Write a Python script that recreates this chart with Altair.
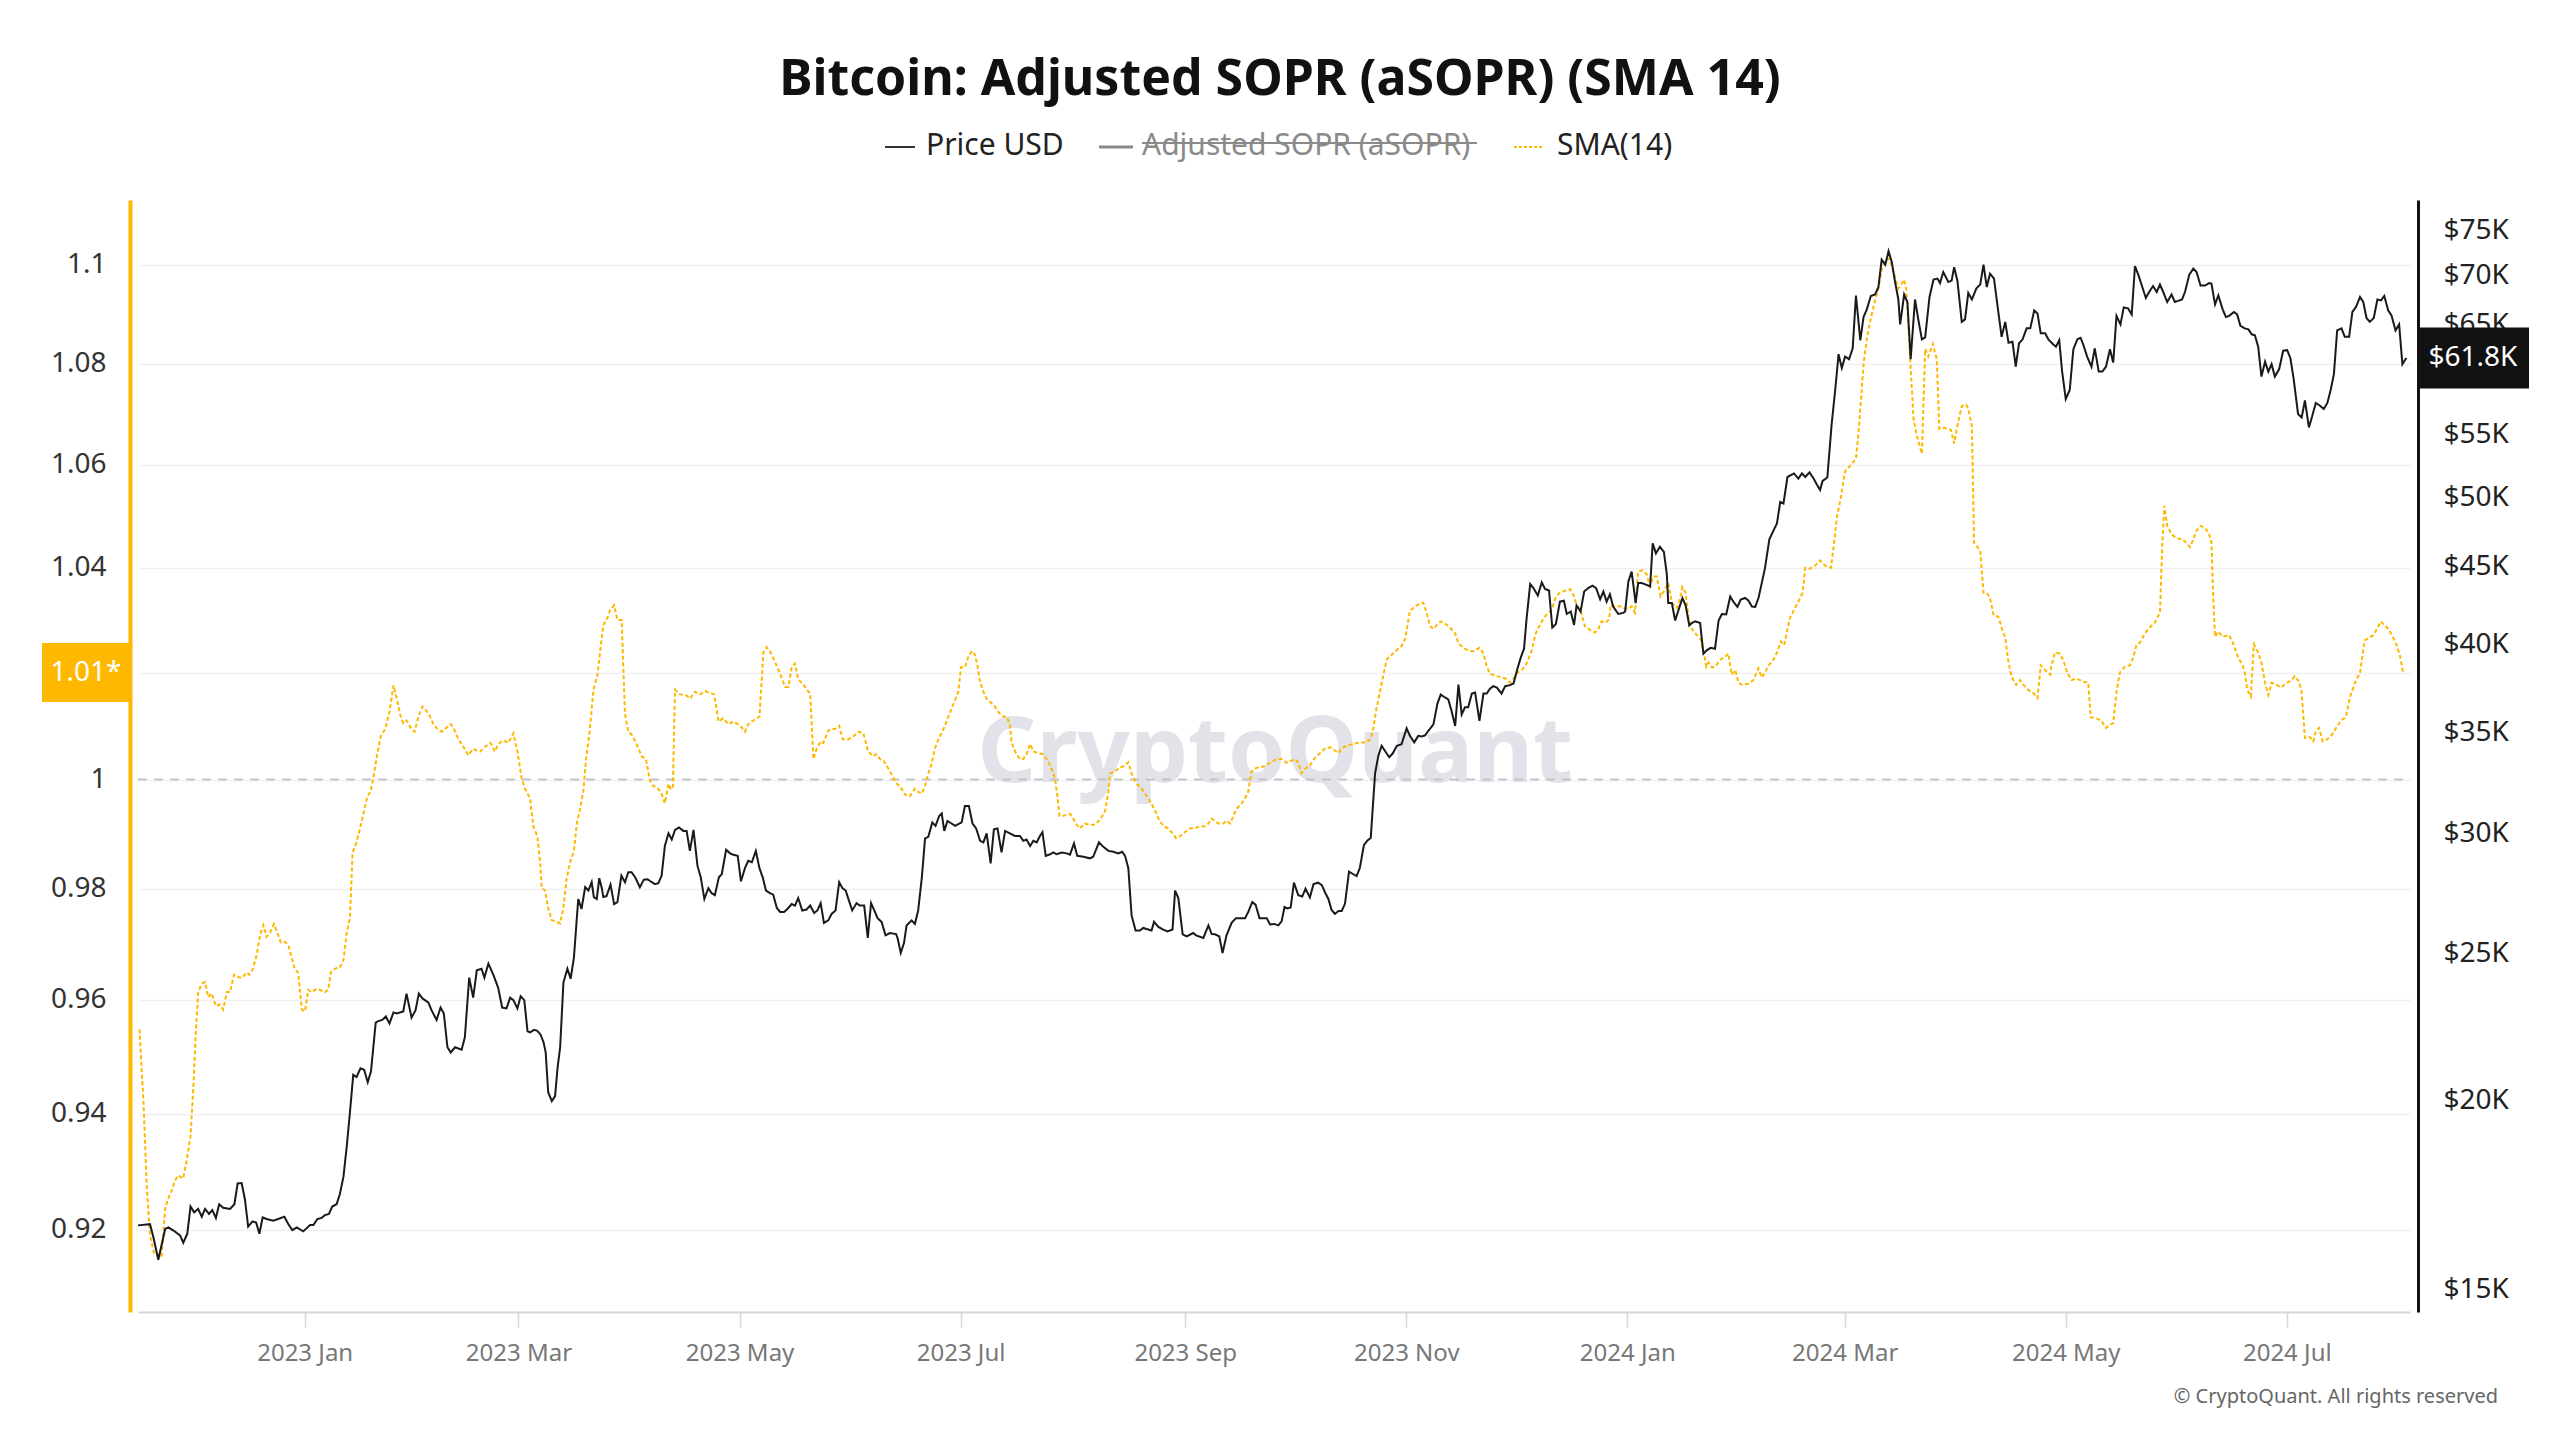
import altair as alt
import pandas as pd

# ---------------- data ----------------
BASE_DATE = "2022-11-16"  # day 0

price_day = [
    0, 3.3, 4.2, 5.6, 7.5, 8.4, 9.8, 11.6, 12.5, 13.6,
    14.5, 15.5, 16.6, 17.6, 18.5, 19.6, 20.5, 21.5, 22.4, 23.5,
    25.4, 26.6, 27.5, 28.6, 29.5, 30.4, 31.6, 32.6, 33.5, 34.4,
    35.5, 37.3, 38.7, 40.4, 41.5, 42.6, 43.8, 45.6, 47.5, 48.4,
    49.5, 50.7, 51.6, 52.7, 53.6, 54.8, 55.7, 56.7, 57.6, 58.5,
    59.4, 60.3, 61.4, 62.4, 63.4, 64.3, 65.6, 66.3, 67.4, 68.4,
    69.4, 70.5, 71.4, 73.2, 74.1, 75.5, 76.6, 77.5, 78.5, 80.1,
    81.0, 82.4, 83.5, 84.4, 85.4, 86.3, 87.5, 89.3, 90.2, 91.4,
    92.5, 93.5, 94.8, 95.6, 96.7, 98.1, 99.4, 100.5, 101.7, 102.7,
    103.6, 104.7, 105.6, 106.6, 107.5, 108.2,
    109.3, 110.2, 111.1, 111.9, 112.5, 113.2, 114.2, 115.1, 115.8, 116.5,
    117.4, 118.5, 119.4, 120.3, 121.1, 121.5, 122.4, 123.4, 124.3, 125.2,
    125.8, 126.6, 127.3, 128.0, 128.4, 129.3, 130.4, 131.4, 132.3, 133.4,
    134.4, 135.3, 136.2, 137.2, 138.5, 139.6, 140.6, 141.8, 142.7, 143.6,
    144.5, 145.4, 146.4, 147.3, 148.2, 149.3, 150.5, 151.4, 152.3, 153.3,
    154.4, 155.3, 156.3, 157.4, 158.3, 159.2, 160.3, 161.1, 162.3, 163.4,
    164.3, 165.5, 166.4, 167.5, 168.4, 169.4, 170.5, 171.5, 172.4, 173.3,
    174.4, 175.3, 176.3, 177.2, 178.3, 179.2, 180.4, 181.3, 182.2, 183.3,
    184.5, 185.5, 186.6, 187.5, 188.4, 189.3, 190.5, 191.4, 192.5, 193.5,
    194.4, 195.3, 196.2, 197.1, 198.3, 199.2, 200.4, 201.4, 202.3, 203.2,
    204.1, 205.2, 206.3, 207.5, 209.2, 209.6, 210.5, 211.4, 212.1,
    213.5, 214.4, 215.3, 216.3, 217.2, 218.1, 219.2, 220.1, 221.1, 221.8,
    222.5, 223.4, 224.5, 225.5, 227.3, 228.2, 229.3, 230.3, 231.3, 232.4,
    233.3, 234.2, 235.3, 236.2, 237.2, 238.3, 239.3, 240.6, 242.0, 243.4,
    244.3, 245.2, 246.2, 247.1, 248.0, 248.9, 249.6, 250.5, 251.7, 252.6,
    253.5, 254.9, 256.3, 257.2, 258.3, 259.2, 260.9, 262.7, 263.6, 265.2,
    266.4, 267.8, 269.2, 270.5, 271.6, 272.4, 273.3, 274.2, 275.3, 276.5,
    277.4, 278.8, 279.7, 280.4, 281.6, 282.8, 284.1, 285.5, 286.2, 287.1,
    288.3, 289.4, 291.2, 292.0, 294.0, 295.4, 296.3, 297.2, 298.4, 299.3,
    300.4, 301.8, 303.0, 304.6, 305.5, 306.4, 307.5, 308.4, 309.5, 311.5,
    312.4, 313.6, 314.7, 315.6, 316.4,
    317.2, 318.1, 319.0, 320.2, 321.3, 322.2, 323.4, 324.4, 325.7, 326.7,
    327.6, 328.5, 329.4, 330.3, 331.3, 332.2, 333.1, 334.2, 335.4, 336.3,
    337.2, 338.3, 339.3, 340.2, 341.4, 342.3, 343.2, 344.1, 345.3, 346.3,
    347.4, 348.7, 350.1, 351.0, 352.2, 353.3, 354.3, 355.2, 356.1, 357.5,
    358.6, 359.5, 360.7, 361.6, 362.5, 363.5, 364.4, 365.3, 366.2, 367.1,
    368.1, 369.0, 370.2, 371.3, 372.2, 373.1, 374.0, 375.0, 376.3, 377.3,
    378.6, 379.6, 380.7, 381.6, 382.5, 383.2, 384.2, 385.1, 386.3, 387.4,
    388.3, 389.4, 390.3, 391.3, 392.4, 393.5, 394.3, 395.4, 396.3, 397.0,
    398.1, 399.1, 400.2, 401.4, 402.4, 403.5, 404.4, 405.3, 406.2, 407.1,
    408.5, 409.9, 410.4, 411.3, 412.2, 413.3, 414.0, 415.0, 416.3, 417.3,
    418.0, 418.9, 420.0, 421.1, 421.9, 422.3,
    423.3, 424.2, 425.1, 426.2, 427.1, 428.1, 428.8, 429.7, 431.1, 432.0,
    432.9, 434.0, 435.2, 436.2, 437.1, 438.3, 439.4, 440.3, 441.4, 442.3,
    443.5, 444.4, 445.4, 446.3, 447.2, 448.1, 449.0, 450.2, 451.3, 452.3,
    453.2, 454.1, 455.2, 457.0, 458.2, 459.2, 460.1, 461.3, 462.4, 463.3,
    464.2, 464.9, 466.2, 467.4, 468.4, 469.3, 470.2, 471.1, 472.2, 473.2,
    474.1, 475.3, 476.2, 477.1, 478.2, 479.4, 480.3, 481.2, 482.2, 483.1,
    484.0, 484.9, 485.8, 486.3, 487.4, 488.3, 489.2, 490.4, 491.3, 492.3,
    493.2, 494.4, 495.5, 496.6, 497.3, 498.2, 499.6, 500.5, 501.2, 502.1,
    503.3, 504.2, 505.1, 506.1, 507.3, 508.4, 509.3, 510.2, 511.1, 512.2,
    513.2, 514.3, 515.3, 516.2, 517.3, 518.2, 519.1, 520.1, 521.2, 522.2,
    523.3, 524.2, 525.1, 526.3,
    527.2, 528.5, 529.3, 530.2, 531.0, 532.0, 533.1, 534.1, 535.2, 536.1,
    536.8, 537.9, 539.1, 540.0, 541.1, 542.1, 543.1, 544.2, 545.1, 546.0,
    547.1, 548.0, 549.2, 550.2, 551.1, 552.0, 552.9, 554.1, 555.0, 556.1,
    557.1, 558.0, 558.9, 560.0, 561.2, 562.1, 563.0, 564.1, 564.9, 566.1,
    567.2, 568.1, 569.2, 570.4, 571.6, 572.2, 573.2, 574.1, 575.3, 576.2,
    577.1, 578.4, 579.3, 580.2, 581.4, 582.4, 583.3, 584.2, 585.1, 586.0,
    587.0, 587.9, 588.8, 589.7, 590.9, 592.0, 593.1, 594.0, 594.9, 596.1,
    597.1, 598.0, 599.1, 600.0, 601.0, 602.1, 603.2, 604.2, 605.1, 606.0,
    606.9, 608.1, 609.0, 610.2, 611.1, 612.1, 613.2, 614.1, 615.0, 615.9,
    617.0, 618.0, 619.0, 619.9, 621.0, 621.9, 623.0, 624.0, 624.9, 626.0,
]

price_k = [
    16.54, 16.57, 16.26, 15.70, 16.45, 16.49, 16.41, 16.29, 16.11, 16.33,
    17.02, 16.87, 16.96, 16.76, 16.96, 16.83, 16.93, 16.73, 17.08, 16.99,
    16.96, 17.08, 17.63, 17.64, 17.21, 16.51, 16.64, 16.61, 16.33, 16.74,
    16.70, 16.66, 16.70, 16.76, 16.57, 16.42, 16.49, 16.39, 16.55, 16.55,
    16.70, 16.73, 16.80, 16.83, 17.02, 17.08, 17.34, 17.81, 18.64, 19.65,
    20.79, 20.72, 21.00, 20.95, 20.56, 20.90, 22.51, 22.56, 22.60, 22.72,
    22.48, 22.86, 22.82, 22.89, 23.52, 22.68, 22.94, 23.52, 23.35, 23.21,
    22.94, 22.60, 23.03, 22.82, 21.68, 21.51, 21.68, 21.60, 22.01, 24.10,
    23.38, 24.37, 24.43, 24.10, 24.62, 24.19, 23.73, 23.03, 23.00, 23.38,
    23.29, 23.00, 23.43, 23.29, 22.21, 22.18,
    22.26, 22.23, 22.10, 21.85, 21.52, 20.25, 19.98, 20.13, 21.03, 21.68,
    23.92, 24.43, 24.06, 24.84, 26.38, 27.16, 26.75, 27.65, 27.51, 27.86,
    27.24, 27.16, 28.03, 27.61, 27.24, 27.28, 27.76, 26.95, 27.03, 28.14,
    27.86, 28.29, 28.29, 28.07, 27.65, 27.97, 27.99, 27.86, 27.78, 27.82,
    28.14, 29.44, 30.01, 29.73, 30.17, 30.28, 30.12, 30.12, 29.22, 30.17,
    28.56, 28.07, 27.16, 27.61, 27.40, 27.32, 28.07, 28.20, 29.27, 29.11,
    29.05, 29.00, 27.90, 28.46, 28.78, 28.72, 29.22, 28.46, 28.07, 27.51,
    27.40, 27.34, 26.79, 26.63, 26.63, 26.75, 26.95, 26.89, 27.20, 26.69,
    26.73, 26.89, 26.59, 26.69, 26.99, 26.19, 26.29, 26.55, 26.69, 27.86,
    27.61, 27.51, 27.09, 26.69, 26.99, 26.89, 26.89, 25.60, 26.99, 26.69,
    26.38, 26.23, 25.70, 25.79, 25.75, 25.60, 25.02, 25.41, 26.09,
    26.29, 26.15, 26.69, 28.03, 29.78, 29.85, 30.51, 30.35, 30.81, 30.93,
    30.12, 30.58, 30.46, 30.35, 30.51, 31.28, 31.28, 30.46, 30.23, 29.67,
    29.60, 30.01, 28.67, 30.19, 30.23, 29.15, 30.12, 30.01, 29.89, 29.89,
    29.67, 29.73, 29.44, 29.67, 29.60, 29.89, 30.06, 29.00, 29.07, 29.15,
    29.07, 29.15, 29.11, 29.05, 29.55, 29.00, 28.96, 28.89, 28.96, 29.60,
    29.40, 29.22, 29.18, 29.11, 29.18, 29.00, 28.46, 26.49, 25.89, 25.89,
    25.99, 25.93, 25.89, 26.23, 26.03, 25.93, 25.85, 25.93, 27.51, 27.20,
    25.74, 25.66, 25.79, 25.70, 25.60, 26.09, 25.75, 25.74, 25.66, 25.02,
    25.70, 26.19, 26.38, 26.38, 26.38, 26.63, 27.03, 26.93, 26.38, 26.38,
    26.13, 26.15, 26.09, 26.25, 26.83,
    26.77, 26.81, 27.84, 27.32, 27.26, 27.59, 27.22, 27.78, 27.84, 27.74,
    27.43, 27.16, 26.71, 26.55, 26.67, 26.67, 26.97, 28.31, 28.20, 28.12,
    28.48, 29.47, 29.69, 29.80, 32.88, 33.77, 34.28, 34.02, 33.69, 33.89,
    34.28, 34.36, 35.20, 34.80, 34.46, 34.80, 34.77, 34.83, 35.07, 35.41,
    36.55, 37.05, 36.89, 36.78, 36.14, 35.33, 37.62, 35.95, 36.34, 36.34,
    37.11, 37.17, 35.60, 37.11, 37.11, 37.39, 37.53, 37.45, 37.11, 37.53,
    37.59, 37.68, 38.55, 39.19, 39.73, 41.57, 43.83, 43.56, 43.07, 43.93,
    43.50, 43.40, 41.03, 41.25, 42.67, 42.73, 41.88, 42.04, 41.19, 42.42,
    42.04, 43.33, 43.56, 43.72, 43.56, 42.83, 43.33, 42.67, 43.16, 42.36,
    41.88, 41.95, 42.04, 44.00, 44.67, 42.58, 43.90, 43.90, 43.77, 43.67,
    46.62, 45.92, 46.38, 46.03, 44.50, 42.58,
    42.58, 41.47, 42.10, 42.91, 42.43, 41.16, 41.31, 41.41, 41.31, 39.42,
    39.63, 39.78, 39.72, 41.47, 41.88, 41.85, 43.01, 42.65, 42.33, 42.81,
    42.91, 42.75, 42.36, 42.33, 42.91, 43.89, 44.90, 46.91, 47.52, 48.06,
    49.65, 49.54, 51.57, 51.85, 51.45, 51.85, 51.57, 51.93, 51.45, 50.99,
    50.57, 51.26, 51.53, 55.91, 58.95, 62.15, 60.85, 61.92, 61.68, 62.71,
    67.95, 63.48, 65.77, 66.53, 67.90, 68.05, 68.83, 71.75, 71.21, 72.68,
    71.48, 69.35, 67.54, 65.03, 68.05, 67.28, 61.68, 67.54, 65.53, 63.57,
    63.76, 67.80, 69.61, 69.72, 69.24, 70.41, 69.35, 69.50, 70.94, 69.50,
    65.28, 65.53, 68.21, 67.54, 68.67, 69.09, 71.21, 68.83, 70.24, 69.72,
    66.78, 63.81, 65.28, 63.24, 63.33, 60.98, 63.19, 63.57, 64.64, 64.64,
    66.42, 66.12, 64.15, 64.15,
    63.57, 63.10, 62.86, 63.48, 60.53, 58.06, 58.86, 62.62, 63.57, 63.72,
    63.10, 61.92, 60.98, 62.71, 60.53, 60.53, 60.98, 62.62, 61.36, 65.88,
    65.03, 66.73, 66.63, 66.02, 71.05, 70.14, 69.09, 67.69, 68.31, 68.93,
    68.31, 69.09, 68.31, 67.28, 68.05, 67.28, 67.39, 67.54, 68.31, 70.14,
    70.78, 70.41, 68.98, 68.98, 69.24, 69.19, 67.03, 67.95, 66.53, 65.77,
    65.88, 66.27, 66.02, 64.89, 64.64, 64.54, 64.06, 63.96, 62.86, 60.07,
    61.45, 60.53, 61.22, 60.07, 60.76, 62.48, 62.53, 61.77, 59.84, 56.76,
    56.46, 57.93, 55.61, 56.55, 57.71, 57.49, 57.19, 57.71, 58.86, 60.30,
    64.44, 64.64, 63.81, 63.81, 66.27, 66.78, 67.80, 67.28, 65.67, 65.28,
    65.67, 67.54, 67.44, 67.90, 66.42, 65.92, 64.44, 65.03, 61.22, 61.80,
]

sma_day = [
    0.4, 1.5, 2.4, 3.3, 4.4, 5.6, 6.5, 7.5, 8.4, 9.3,
    10.2, 11.1, 12.5, 13.4, 14.5, 15.3, 15.9, 16.6, 17.6, 18.5,
    19.4, 20.3, 21.5, 22.6, 23.5, 24.5, 25.4, 26.5, 27.7, 28.6,
    30.0, 30.7, 31.6, 32.6, 33.7, 34.6, 35.5, 36.4, 37.5, 38.5,
    39.4, 40.6, 41.5, 42.4, 43.3, 44.2, 45.2, 46.1, 47.0, 47.9,
    49.3, 50.2, 51.6, 52.5, 53.2, 54.4, 55.7, 56.7, 57.6, 58.5,
    59.2, 60.2, 61.1, 62.2, 63.3, 64.2, 64.9, 66.0, 67.0, 68.2,
    69.4, 70.5, 71.4, 72.5, 73.2, 74.1, 75.1, 76.3, 77.4, 78.5,
    79.5, 80.4, 81.5, 82.6, 83.8, 84.7, 86.3, 87.2, 88.4, 89.8,
    91.2, 92.4, 93.5, 94.4, 95.8, 97.3, 98.5, 99.4, 100.8, 102.2,
    103.6, 104.7, 105.9, 106.8, 108.2,
    109.1, 110.2, 111.0, 111.4, 112.3, 113.2, 114.2, 115.5, 116.5, 117.4,
    118.3, 119.4, 120.3, 121.1, 122.0, 122.9, 123.6, 124.7, 125.7, 126.8,
    127.5, 128.4, 129.3, 130.3, 131.4, 132.3, 133.5, 133.9, 134.4, 135.3,
    136.2, 137.6, 139.0, 140.2, 141.3, 142.2, 143.3, 144.5, 145.4, 146.4,
    147.0, 147.6, 148.2, 149.6, 151.4, 152.3, 153.7, 155.1, 156.5, 157.9,
    159.0, 160.2, 161.5, 162.9, 164.3, 166.1, 167.5, 168.4, 169.8, 171.5,
    172.6, 173.5, 174.4, 175.8, 177.2, 178.6, 179.5, 180.4, 181.3, 182.2,
    183.6, 184.5, 185.5, 186.4, 187.3, 188.4, 189.1, 190.5, 191.4, 192.3,
    193.5, 194.5, 196.0, 197.4, 198.8, 200.2, 201.5, 202.9, 203.7, 204.8,
    205.7, 207.1, 208.5, 209.4, 210.3, 211.7, 213.0,
    213.5, 214.4, 215.3, 216.3, 217.2, 218.1, 219.0, 219.9, 220.9, 222.3,
    223.6, 225.0, 226.4, 227.1, 228.2, 229.1, 230.1, 231.0, 231.6, 232.4,
    233.3, 234.2, 235.1, 236.5, 237.4, 238.8, 239.7, 240.6, 241.1, 242.3,
    243.4, 244.3, 245.2, 246.2, 247.1, 248.5, 249.8, 251.2, 252.4, 253.1,
    253.8, 254.3, 255.4, 257.2, 258.1, 259.0, 259.9, 261.3, 262.7, 264.1,
    265.5, 266.9, 267.8, 268.2, 269.6, 271.0, 271.9, 273.3, 274.2, 275.6,
    277.0, 278.4, 279.3, 280.7, 281.9, 283.0, 284.3, 285.5, 286.5, 287.6,
    288.9, 290.3, 291.7, 293.1, 294.5, 295.4, 296.3, 297.2, 298.1, 299.5,
    300.4, 301.4, 302.3, 303.2, 304.6, 305.5, 306.4, 307.3, 308.7, 310.6,
    312.4, 314.2, 315.6, 317.0,
    319.3, 320.2, 321.1, 322.1, 323.4, 324.8, 326.2, 327.6, 329.0, 330.3,
    331.3, 332.2, 333.6, 334.9, 336.3, 337.7, 339.1, 340.3, 340.9, 341.8,
    343.2, 344.6, 346.0, 347.4, 348.7, 349.7, 350.3, 351.0, 352.4, 353.8,
    354.7, 355.6, 356.6, 357.5, 358.4, 359.5, 360.7, 362.1, 363.5, 364.4,
    366.2, 367.6, 368.7, 370.2, 371.3, 372.2, 373.1, 374.5, 375.9, 377.3,
    378.6, 379.6, 380.7, 381.9, 383.2, 384.6, 385.7, 386.7, 387.8, 388.9,
    390.1, 391.3, 392.4, 393.8, 395.2, 396.1, 397.0, 398.1, 399.3, 400.7,
    402.1, 403.0, 403.9, 405.1, 406.0, 406.4, 407.6, 409.0, 409.9, 411.3,
    412.2, 413.1, 414.0, 415.2, 416.3, 417.3, 418.2, 419.1, 420.2, 421.1,
    422.3,
    423.3, 424.7, 425.6, 426.2, 427.1, 427.9, 428.8, 430.2, 431.3, 432.0,
    432.8, 433.4, 434.3, 435.2, 436.6, 438.0, 438.9, 439.8, 440.8, 441.7,
    442.6, 444.4, 445.8, 447.2, 448.1, 449.0, 450.0, 451.3, 452.3, 453.4,
    454.3, 455.0, 455.9, 457.3, 458.7, 459.4, 460.1, 461.3, 462.8, 464.2,
    465.6, 467.2, 467.9, 468.8, 469.9, 471.1, 472.5, 474.1, 474.8, 475.5,
    476.2, 477.1, 478.0, 479.1, 480.3, 481.2, 482.2, 483.3, 484.5, 485.8,
    486.8, 487.4, 488.0, 488.9, 490.0, 490.9, 492.3, 493.2, 494.1, 495.3,
    496.4, 497.1, 498.2, 499.6, 500.3, 501.2, 501.9, 503.3, 504.5, 505.1,
    506.1, 506.7, 508.4, 509.3, 510.2, 511.1, 512.1, 513.4, 514.3, 515.3,
    516.2, 517.1, 518.3, 519.4, 520.3, 521.7, 523.1, 524.2, 525.1, 526.3,
    527.7,
    528.1, 529.0, 530.4, 531.3, 532.4, 533.6, 535.0, 536.8, 538.2, 538.9,
    540.5, 541.9, 543.1, 544.2, 545.1, 546.0, 546.9, 548.3, 549.7, 550.6,
    551.5, 552.5, 553.8, 554.8, 556.6, 558.0, 558.6, 559.2, 560.0, 561.2,
    562.6, 564.2, 565.3, 566.3, 567.2, 568.1, 569.2, 570.4, 571.5, 572.2,
    572.7, 573.2, 574.1, 575.3, 577.1, 578.4, 579.6, 580.8, 581.4, 582.1,
    583.1, 583.9, 585.1, 586.0, 587.0, 587.9, 588.8, 590.2, 591.5, 592.9,
    594.3, 595.2, 596.4, 597.1, 598.0, 599.4, 600.3, 601.0, 601.9, 602.9,
    604.0, 605.4, 606.7, 608.1, 609.3, 610.4, 611.8, 613.2, 614.5, 615.7,
    616.9, 617.9, 618.9, 620.1, 621.3, 622.4, 623.3, 624.2, 625.1,
]

sma_val = [
    0.9548, 0.9422, 0.9276, 0.9191, 0.9161, 0.9157, 0.9153, 0.9237, 0.9254, 0.9267,
    0.9284, 0.9293, 0.9288, 0.9318, 0.9361, 0.9448, 0.9535, 0.9614, 0.9629, 0.9632,
    0.9605, 0.9612, 0.9589, 0.9592, 0.9583, 0.9614, 0.9614, 0.9645, 0.9641, 0.9639,
    0.9649, 0.9645, 0.9654, 0.9676, 0.9716, 0.9734, 0.9713, 0.9720, 0.9736, 0.9720,
    0.9703, 0.9704, 0.9698, 0.9676, 0.9654, 0.9649, 0.9583, 0.9580, 0.9618, 0.9614,
    0.9620, 0.9618, 0.9614, 0.9618, 0.9649, 0.9656, 0.9658, 0.9671, 0.9720, 0.9747,
    0.9865, 0.9883, 0.9905, 0.9937, 0.9969, 0.9978, 1.0001, 1.0047, 1.0080, 1.0094,
    1.0126, 1.0176, 1.0151, 1.0117, 1.0105, 1.0110, 1.0098, 1.0089, 1.0117, 1.0136,
    1.0129, 1.0120, 1.0103, 1.0094, 1.0089, 1.0094, 1.0103, 1.0094, 1.0075, 1.0061,
    1.0045, 1.0057, 1.0054, 1.0052, 1.0061, 1.0068, 1.0052, 1.0066, 1.0073, 1.0068,
    1.0086, 1.0052, 1.0001, 0.9983, 0.9965,
    0.9914, 0.9896, 0.9846, 0.9801, 0.9797, 0.9765, 0.9743, 0.9740, 0.9737, 0.9765,
    0.9819, 0.9851, 0.9869, 0.9919, 0.9946, 0.9978, 1.0034, 1.0094, 1.0168, 1.0196,
    1.0238, 1.0290, 1.0300, 1.0319, 1.0328, 1.0300, 1.0300, 1.0215, 1.0122, 1.0089,
    1.0084, 1.0066, 1.0043, 1.0038, 0.9997, 0.9988, 0.9985, 0.9974, 0.9956, 0.9992,
    0.9983, 0.9983, 1.0168, 1.0159, 1.0157, 1.0151, 1.0164, 1.0159, 1.0165, 1.0162,
    1.0159, 1.0108, 1.0114, 1.0103, 1.0108, 1.0101, 1.0089, 1.0103, 1.0110, 1.0117,
    1.0238, 1.0248, 1.0241, 1.0220, 1.0198, 1.0173, 1.0173, 1.0210, 1.0217, 1.0187,
    1.0178, 1.0168, 1.0161, 1.0038, 1.0057, 1.0071, 1.0068, 1.0091, 1.0094, 1.0094,
    1.0100, 1.0075, 1.0075, 1.0080, 1.0089, 1.0086, 1.0052, 1.0043, 1.0047, 1.0038,
    1.0036, 1.0020, 1.0003, 0.9992, 0.9988, 0.9972, 0.9969,
    0.9974, 0.9983, 0.9977, 0.9974, 0.9988, 1.0011, 1.0029, 1.0057, 1.0075, 1.0094,
    1.0117, 1.0140, 1.0164, 1.0210, 1.0210, 1.0229, 1.0241, 1.0234, 1.0215, 1.0182,
    1.0164, 1.0151, 1.0145, 1.0136, 1.0126, 1.0117, 1.0117, 1.0103, 1.0068, 1.0049,
    1.0038, 1.0038, 1.0047, 1.0066, 1.0052, 1.0049, 1.0047, 1.0034, 1.0015, 1.0001,
    0.9965, 0.9933, 0.9933, 0.9937, 0.9928, 0.9917, 0.9910, 0.9919, 0.9916, 0.9917,
    0.9926, 0.9942, 0.9978, 1.0011, 1.0015, 1.0023, 1.0024, 1.0032, 1.0011, 0.9992,
    0.9983, 0.9969, 0.9960, 0.9942, 0.9924, 0.9914, 0.9910, 0.9901, 0.9892, 0.9896,
    0.9903, 0.9910, 0.9910, 0.9914, 0.9914, 0.9919, 0.9928, 0.9924, 0.9919, 0.9919,
    0.9924, 0.9919, 0.9933, 0.9946, 0.9956, 0.9965, 0.9978, 1.0015, 1.0022, 1.0024,
    1.0031, 1.0038, 1.0038, 1.0031,
    1.0038, 1.0031, 1.0012, 1.0020, 1.0026, 1.0040, 1.0049, 1.0058, 1.0060, 1.0054,
    1.0049, 1.0058, 1.0063, 1.0065, 1.0068, 1.0069, 1.0069, 1.0077, 1.0095, 1.0133,
    1.0180, 1.0225, 1.0234, 1.0243, 1.0250, 1.0264, 1.0288, 1.0317, 1.0326, 1.0331,
    1.0333, 1.0314, 1.0288, 1.0283, 1.0290, 1.0297, 1.0293, 1.0285, 1.0274, 1.0255,
    1.0245, 1.0241, 1.0241, 1.0247, 1.0236, 1.0212, 1.0198, 1.0194, 1.0192, 1.0189,
    1.0181, 1.0189, 1.0200, 1.0205, 1.0217, 1.0241, 1.0274, 1.0288, 1.0302, 1.0312,
    1.0319, 1.0345, 1.0352, 1.0356, 1.0359, 1.0348, 1.0329, 1.0317, 1.0288, 1.0281,
    1.0276, 1.0283, 1.0297, 1.0295, 1.0302, 1.0329, 1.0326, 1.0326, 1.0323, 1.0321,
    1.0326, 1.0314, 1.0393, 1.0395, 1.0388, 1.0364, 1.0383, 1.0383, 1.0345, 1.0355,
    1.0371,
    1.0333, 1.0323, 1.0342, 1.0363, 1.0352, 1.0304, 1.0283, 1.0271, 1.0262, 1.0243,
    1.0211, 1.0219, 1.0210, 1.0211, 1.0224, 1.0230, 1.0236, 1.0196, 1.0205, 1.0181,
    1.0177, 1.0179, 1.0186, 1.0208, 1.0191, 1.0200, 1.0214, 1.0224, 1.0238, 1.0259,
    1.0252, 1.0276, 1.0304, 1.0323, 1.0342, 1.0352, 1.0400, 1.0398, 1.0404, 1.0414,
    1.0404, 1.0400, 1.0438, 1.0496, 1.0535, 1.0588, 1.0598, 1.0612, 1.0662, 1.0730,
    1.0800, 1.0850, 1.0885, 1.0920, 1.0952, 1.0991, 1.1006, 1.1013, 1.0985, 1.0952,
    1.0962, 1.0970, 1.0950, 1.0830, 1.0691, 1.0657, 1.0622, 1.0830, 1.0815, 1.0840,
    1.0810, 1.0671, 1.0673, 1.0671, 1.0669, 1.0642, 1.0671, 1.0716, 1.0719, 1.0711,
    1.0676, 1.0448, 1.0433, 1.0352, 1.0352, 1.0342, 1.0309, 1.0306, 1.0285, 1.0266,
    1.0219, 1.0191, 1.0177, 1.0186, 1.0177, 1.0167, 1.0161, 1.0152, 1.0214, 1.0205,
    1.0196,
    1.0214, 1.0238, 1.0236, 1.0224, 1.0200, 1.0186, 1.0189, 1.0183, 1.0181, 1.0116,
    1.0114, 1.0109, 1.0096, 1.0102, 1.0105, 1.0163, 1.0200, 1.0211, 1.0214, 1.0228,
    1.0252, 1.0257, 1.0274, 1.0283, 1.0295, 1.0314, 1.0438, 1.0520, 1.0481, 1.0465,
    1.0457, 1.0455, 1.0448, 1.0440, 1.0455, 1.0472, 1.0481, 1.0477, 1.0467, 1.0448,
    1.0342, 1.0268, 1.0278, 1.0268, 1.0271, 1.0252, 1.0228, 1.0214, 1.0200, 1.0167,
    1.0155, 1.0254, 1.0238, 1.0219, 1.0181, 1.0158, 1.0181, 1.0177, 1.0172, 1.0180,
    1.0186, 1.0193, 1.0183, 1.0163, 1.0077, 1.0079, 1.0071, 1.0090, 1.0096, 1.0071,
    1.0074, 1.0083, 1.0097, 1.0111, 1.0116, 1.0153, 1.0181, 1.0200, 1.0261, 1.0266,
    1.0271, 1.0283, 1.0297, 1.0290, 1.0280, 1.0266, 1.0252, 1.0233, 1.0200,
]

left_ticks = [0.92, 0.94, 0.96, 0.98, 1.0, 1.02, 1.04, 1.06, 1.08, 1.1]
right_ticks_k = [15, 20, 25, 30, 35, 40, 45, 50, 55, 60, 65, 70, 75]
x_tick_months = [(2023, 1), (2023, 3), (2023, 5), (2023, 7), (2023, 9),
                 (2023, 11), (2024, 1), (2024, 3), (2024, 5), (2024, 7)]
last_labels = ["1.01*", "$61.8K"]
title_text = "Bitcoin: Adjusted SOPR (aSOPR) (SMA 14)"
legend_labels = ["Price USD", "Adjusted SOPR (aSOPR)", "SMA(14)"]
watermark_text = "CryptoQuant"
copyright_text = "\u00a9 CryptoQuant. All rights reserved"

assert len(price_day) == len(price_k), (len(price_day), len(price_k))
assert len(sma_day) == len(sma_val), (len(sma_day), len(sma_val))

# ---------------- build ----------------
W, H = 2272, 1112
FONT = "Noto Sans"
GOLD = "#FFB800"


def iso(days):
    base = pd.Timestamp(BASE_DATE)
    return [(base + pd.Timedelta(days=float(d))).strftime("%Y-%m-%dT%H:%M:%SZ") for d in days]


price_df = pd.DataFrame({"date": iso(price_day), "price": price_k})
sma_df = pd.DataFrame({"date": iso(sma_day), "sma": sma_val})

x_scale = alt.Scale(
    type="utc",
    domain=[alt.DateTime(year=2022, month=11, date=16, utc=True),
            alt.DateTime(year=2024, month=8, date=4, utc=True)],
    nice=False,
)
x_axis = alt.Axis(
    values=[alt.DateTime(year=y, month=m, date=1, utc=True) for y, m in x_tick_months],
    labelExpr="utcFormat(datum.value, '%Y %b')", title=None, grid=False,
    labelFont=FONT, labelFontSize=24, labelColor="#777777",
    tickColor="#d6d6de", tickSize=15, tickWidth=1.5,
    domainColor="#d6d6de", domainWidth=2, labelPadding=14, labelOverlap=False,
)
X = alt.X("date:T", scale=x_scale, axis=x_axis)

left_scale = alt.Scale(type="log", domain=[0.9061, 1.1133], nice=False)
left_axis = alt.Axis(
    orient="left", offset=8, values=left_ticks, format="~g", title=None,
    labelFont=FONT, labelFontSize=28, labelColor="#333333", labelPadding=24,
    ticks=False, domainColor=GOLD, domainWidth=4,
    grid=True, gridColor="#f0f0f3", gridWidth=1.5, labelOverlap=False,
)
YL = alt.Y("sma:Q", scale=left_scale, axis=left_axis)

right_scale = alt.Scale(type="log", domain=[14.50, 78.56], nice=False)
right_axis = alt.Axis(
    orient="right", offset=8, values=right_ticks_k,
    labelExpr="'$' + datum.value + 'K'", title=None,
    labelFont=FONT, labelFontSize=28, labelColor="#222222", labelPadding=25,
    ticks=False, domainColor="#111111", domainWidth=3, grid=False, labelOverlap=False,
)
YR = alt.Y("price:Q", scale=right_scale, axis=right_axis)

# left (aSOPR SMA) group
one_rule = alt.Chart(pd.DataFrame({"sma": [1.0]})).mark_rule(
    color="#c4c4cc", strokeWidth=2, strokeDash=[9, 7]
).encode(y=YL, x=alt.value(0), x2=alt.value(W - 4))

sma_line = alt.Chart(sma_df).mark_line(
    color=GOLD, strokeWidth=2, strokeDash=[4, 2.5]
).encode(x=X, y=YL)

sma_last = pd.DataFrame({"sma": [sma_val[-1]], "lbl": [last_labels[0]]})
box_l = alt.Chart(sma_last).mark_rect(color=GOLD, yOffset=-29.5, y2Offset=29.5).encode(
    x=alt.value(-96), x2=alt.value(-8), y=YL, y2=alt.Y2("sma"))
txt_l = alt.Chart(sma_last).mark_text(
    color="white", font=FONT, fontSize=28, align="center", baseline="middle"
).encode(x=alt.value(-52), y=YL, text="lbl:N")

left = alt.layer(one_rule, sma_line, box_l, txt_l)

# right (price) group
price_line = alt.Chart(price_df).mark_line(color="#1a1a1a", strokeWidth=2).encode(x=X, y=YR)
price_last = pd.DataFrame({"price": [price_k[-1]], "lbl": [last_labels[1]]})
box_r = alt.Chart(price_last).mark_rect(color="#111111", yOffset=-30.5, y2Offset=30.5).encode(
    x=alt.value(W + 8), x2=alt.value(W + 119), y=YR, y2=alt.Y2("price"))
txt_r = alt.Chart(price_last).mark_text(
    color="white", font=FONT, fontSize=28, align="center", baseline="middle"
).encode(x=alt.value(W + 63), y=YR, text="lbl:N")

right = alt.layer(price_line, box_r, txt_r)


def text_layer(s, x, y, size, color, weight="normal", align="left"):
    return alt.Chart(pd.DataFrame({"t": [s]})).mark_text(
        align=align, baseline="alphabetic", font=FONT, fontSize=size,
        fontWeight=weight, color=color
    ).encode(x=alt.value(x), y=alt.value(y), text="t:N")


def seg(x1, x2, y, color, width, dash=None):
    kw = dict(color=color, strokeWidth=width)
    if dash:
        kw["strokeDash"] = dash
    return alt.Chart(pd.DataFrame({"a": [0]})).mark_rule(**kw).encode(
        x=alt.value(x1), x2=alt.value(x2), y=alt.value(y))


watermark = text_layer(watermark_text, 1137, 582, 92, "#e2e2e9", weight="bold", align="center")
title = text_layer(title_text, 1142, -105, 50, "#111111", weight="bold", align="center")
leg = [
    seg(747, 777, -53, "#333333", 2),
    text_layer(legend_labels[0], 788, -45, 30, "#222222"),
    seg(961, 995, -53, "#888888", 3),
    text_layer(legend_labels[1], 1004, -45, 30, "#8a8a8a"),
    seg(1004, 1339, -57, "#8a8a8a", 2),
    seg(1376, 1405, -53, GOLD, 2, [3, 2]),
    text_layer(legend_labels[2], 1419, -45, 30, "#222222"),
]
copyright_ = text_layer(copyright_text, 2360, 1203, 20, "#666666", align="right")

chart = alt.layer(
    watermark, left, right, title, *leg, copyright_
).resolve_scale(y="independent").properties(
    width=W, height=H,
    autosize=alt.AutoSizeParams(type="none"),
    padding={"left": 130, "top": 192, "right": 142, "bottom": 120},
    background="white",
).configure_view(stroke=None)

chart.save("out.html", embed_options={"renderer": "svg", "actions": False})
